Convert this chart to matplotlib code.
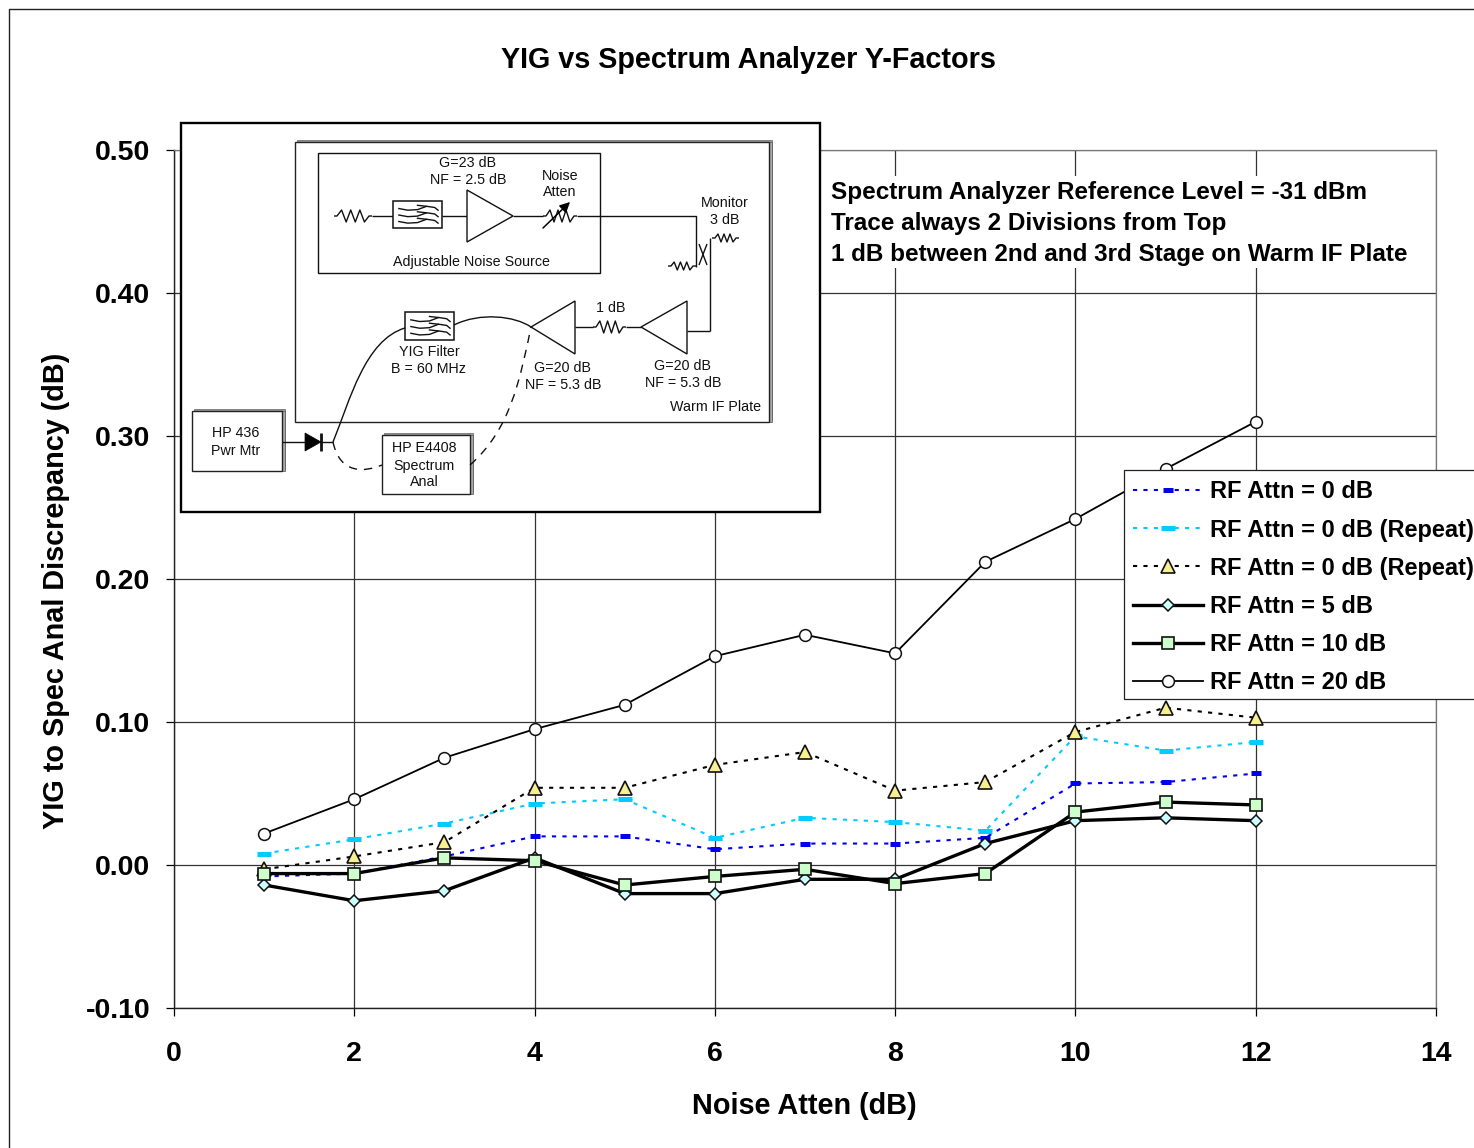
#!/usr/bin/env python
import numpy as np
import matplotlib
matplotlib.use('Agg')
import matplotlib.pyplot as plt
from matplotlib.patches import Rectangle, Polygon, PathPatch
from matplotlib.path import Path

plt.rcParams['font.family'] = ['Liberation Sans', 'DejaVu Sans']

noise_atten = [1, 2, 3, 4, 5, 6, 7, 8, 9, 10, 11, 12]
rf0 = [-0.008, -0.006, 0.006, 0.020, 0.020, 0.011, 0.015, 0.015, 0.019, 0.057, 0.058, 0.064]
rf0_rep1 = [0.008, 0.018, 0.029, 0.043, 0.046, 0.019, 0.033, 0.030, 0.024, 0.090, 0.080, 0.086]
rf0_rep2 = [-0.003, 0.006, 0.016, 0.054, 0.054, 0.070, 0.079, 0.052, 0.058, 0.093, 0.110, 0.103]
rf5 = [-0.014, -0.025, -0.018, 0.005, -0.020, -0.020, -0.010, -0.010, 0.015, 0.031, 0.033, 0.031]
rf10 = [-0.006, -0.006, 0.005, 0.003, -0.014, -0.008, -0.003, -0.013, -0.006, 0.037, 0.044, 0.042]
rf20 = [0.022, 0.046, 0.075, 0.095, 0.112, 0.146, 0.161, 0.148, 0.212, 0.242, 0.277, 0.310]

W, H = 1474, 1148
L, R, T, B = 174, 1436, 150, 1008

fig = plt.figure(figsize=(W/100, H/100), dpi=100)
ax = fig.add_axes([L/W, 1-B/H, (R-L)/W, (B-T)/H], zorder=1)

dots = (0, (2.0, 3.0))
ax.plot(noise_atten, rf0, color='#0000ee', lw=1.5, ls=dots, marker='_', ms=7.5, mew=3.6, label='RF Attn = 0 dB', zorder=3)
ax.plot(noise_atten, rf0_rep1, color='#00ccff', lw=1.5, ls=dots, marker='_', ms=10.5, mew=3.6, label='RF Attn = 0 dB (Repeat)', zorder=3)
ax.plot(noise_atten, rf0_rep2, color='black', lw=1.5, ls=dots, marker='^', ms=9.5, mfc='#f8f090', mec='#111111', mew=1.2, label='RF Attn = 0 dB (Repeat)', zorder=3)
ax.plot(noise_atten, rf5, color='black', lw=2.4, marker='D', ms=6.5, mfc='#ccffff', mec='#111111', mew=1.1, label='RF Attn = 5 dB', zorder=4)
ax.plot(noise_atten, rf10, color='black', lw=2.4, marker='s', ms=8.5, mfc='#ccffcc', mec='#111111', mew=1.2, label='RF Attn = 10 dB', zorder=5)
ax.plot(noise_atten, rf20, color='black', lw=1.3, marker='o', ms=8.5, mfc='white', mec='#111111', mew=1.1, label='RF Attn = 20 dB', zorder=4)

ax.set_xlim(0, 14)
ax.set_ylim(-0.10, 0.50)
ax.set_xticks(range(0, 15, 2))
ax.set_yticks(np.arange(-0.1, 0.51, 0.1))
ax.yaxis.set_major_formatter(matplotlib.ticker.FormatStrFormatter('%.2f'))
ax.grid(True, color='#333333', lw=0.9)
ax.set_axisbelow(True)
for s in ['top', 'right']:
    ax.spines[s].set_color('#777777')
    ax.spines[s].set_linewidth(0.9)
for s in ['left', 'bottom']:
    ax.spines[s].set_color('#222222')
    ax.spines[s].set_linewidth(1.0)
ax.tick_params(axis='x', length=6, width=0.9, pad=18, labelsize=20.5)
ax.tick_params(axis='y', length=6, width=0.9, pad=11, labelsize=20.5)
for t in ax.get_xticklabels() + ax.get_yticklabels():
    t.set_fontweight('bold')

ax.set_xlabel('Noise Atten (dB)', fontsize=20.8, fontweight='bold', va='center')
ax.xaxis.set_label_coords((804-L)/(R-L), -(1106-B)/(B-T))
ax.set_ylabel('YIG to Spec Anal Discrepancy (dB)', fontsize=20.8, fontweight='bold', va='center')
ax.yaxis.set_label_coords((56-L)/(R-L), (B-591)/(B-T))
ax.set_title('YIG vs Spectrum Analyzer Y-Factors', fontsize=20.7, fontweight='bold',
             x=(748-L)/(R-L), y=(B-68)/(B-T), va='center')

leg = ax.legend(loc='upper left', bbox_to_anchor=(1124/W, 1-472/H), bbox_transform=fig.transFigure,
                prop={'weight': 'bold', 'size': 17}, frameon=False, borderpad=0.36,
                labelspacing=0.64, handlelength=3.0, handletextpad=0.3, borderaxespad=0, markerscale=1.0)
leg.set_zorder(10)
ax.add_patch(Rectangle((1124/W, 1-699/H), 400/W, 229/H, transform=fig.transFigure, fc='white',
                       ec='#222222', lw=0.9, clip_on=False, zorder=9))

# overlay in pixel coordinates for the page frame, note block and block diagram
ov = fig.add_axes([0, 0, 1, 1], zorder=2)
ov.set_xlim(0, W)
ov.set_ylim(H, 0)
ov.axis('off')
ov.patch.set_alpha(0)

ov.plot([9, 9, W], [H, 9, 9], color='#222222', lw=1.0)

ov.add_patch(Rectangle((825, 176), 595, 92, fc='white', ec='none'))
notes = ['Spectrum Analyzer Reference Level = -31 dBm',
         'Trace always 2 Divisions from Top',
         '1 dB between 2nd and 3rd Stage on Warm IF Plate']
for yy, s in zip([192.5, 223.5, 254.5], notes):
    ov.text(831, yy, s, fontsize=17.5, fontweight='bold', va='center', ha='left')

ov.add_patch(Rectangle((181, 123), 639, 389, fc='white', ec='black', lw=1.7, zorder=2))


def wire(xs, ys, lw=1.0, ls='-', color='#111111'):
    ov.plot(xs, ys, color=color, lw=lw, ls=ls, zorder=4, solid_capstyle='butt')


def box3d(x0, y0, x1, y1):
    ov.add_patch(Rectangle((x0+2, y0-2), x1-x0+1, y1-y0, fc='#999999', ec='#777777', lw=0.6, zorder=3))
    ov.add_patch(Rectangle((x1-1, y0), 4, y1-y0, fc='#aaaaaa', ec='#555555', lw=0.5, zorder=3))
    ov.add_patch(Rectangle((x0, y0), x1-x0, y1-y0, fc='white', ec='#222222', lw=1.0, zorder=3))


def resistor(x0, x1, y, amp=6):
    xs = np.linspace(x0+3, x1-3, 8)
    ys = [y + amp*(1 if i % 2 == 0 else -1) for i in range(8)]
    ys[0] = y
    ys[-1] = y
    wire([x0] + list(xs) + [x1], [y] + ys + [y])


def amp(apex_x, base_x, y0, y1, y_mid):
    ov.add_patch(Polygon([(base_x, y0), (base_x, y1), (apex_x, y_mid)], closed=True, fc='white', ec='#111111', lw=1.0, zorder=5))


def filt(x0, y0, x1, y1):
    ov.add_patch(Rectangle((x0, y0), x1-x0, y1-y0, fc='white', ec='#111111', lw=1.1, zorder=5))
    w, h = x1-x0, y1-y0
    for r in [0.28, 0.52, 0.76]:
        ov.plot(x0 + w*np.array([0.12, 0.3, 0.5, 0.68]), y0 + h*(r + np.array([0.0, 0.06, 0.04, -0.08])),
                color='#111111', lw=1.0, zorder=6)
        ov.plot(x0 + w*np.array([0.5, 0.7, 0.85, 0.92]), y0 + h*(r + np.array([-0.12, -0.08, -0.04, 0.06])),
                color='#111111', lw=1.0, zorder=6)


def curve(pts, ls='-'):
    codes = [Path.MOVETO] + [Path.CURVE4]*(len(pts)-1)
    ov.add_patch(PathPatch(Path(pts, codes), fc='none', ec='#111111', lw=1.0, ls=ls, zorder=4))


box3d(295, 142, 769, 422)
ov.add_patch(Rectangle((318, 153), 282, 120, fc='none', ec='#111111', lw=1.0, zorder=4))
box3d(192, 411, 282, 471)
box3d(382, 435, 470, 494)

# noise source chain
resistor(334, 372, 216)
wire([372, 393], [216, 216])
filt(393, 201, 442, 228)
wire([442, 467], [216, 216])
amp(513, 467, 190, 242, 216)
wire([513, 543], [216, 216])
resistor(543, 577, 216)
ov.annotate('', xy=(570, 202), xytext=(543, 228),
            arrowprops=dict(arrowstyle='-|>,head_length=0.6,head_width=0.3', color='black', lw=1.1, shrinkA=0, shrinkB=0), zorder=6)
wire([577, 696, 696], [216, 216, 267])
resistor(668, 696, 266, amp=4)
wire([710, 710], [238, 331])
resistor(712, 739, 238, amp=4)
wire([699, 707], [244, 265])
wire([707, 699], [244, 265])
# warm IF plate chain
wire([687, 710], [331, 331])
amp(641, 687, 301, 354, 327)
wire([626, 641], [327, 327])
resistor(593, 626, 327)
wire([575, 593], [327, 327])
amp(531, 575, 301, 354, 327)
filt(405, 312, 454, 340)
curve([(454, 325), (480, 312), (515, 316), (531, 327)])
curve([(405, 328), (365, 340), (350, 400), (333, 442)])
curve([(333, 442), (340, 475), (365, 472), (382, 465)], ls=(0, (6, 5)))
curve([(470, 465), (510, 430), (520, 380), (531, 327)], ls=(0, (6, 5)))
# detector
wire([282, 305], [442, 442])
ov.add_patch(Polygon([(305, 433), (305, 451), (321, 442)], closed=True, fc='black', ec='black', lw=0.5, zorder=5))
wire([321, 321], [433, 451], lw=2.0)
wire([321, 333], [442, 442])

labels = [(468, 162, 'G=23 dB'), (468, 179, 'NF = 2.5 dB'), (560, 175, 'Noise'), (560, 191, 'Atten'),
          (725, 202, 'Monitor'), (725, 219, '3 dB'), (472, 261, 'Adjustable Noise Source'),
          (429, 351, 'YIG Filter'), (429, 368, 'B = 60 MHz'), (611, 307, '1 dB'),
          (563, 367, 'G=20 dB'), (563, 384, 'NF = 5.3 dB'), (683, 365, 'G=20 dB'), (683, 382, 'NF = 5.3 dB'),
          (716, 406, 'Warm IF Plate'), (236, 432, 'HP 436'), (236, 450, 'Pwr Mtr'),
          (424, 447, 'HP E4408'), (424, 465, 'Spectrum'), (424, 481, 'Anal')]
for x, y, s in labels:
    ov.text(x, y+1, s, fontsize=10.3, ha='center', va='center', color='#111111', zorder=7)

plt.savefig('out.png', dpi=100)
